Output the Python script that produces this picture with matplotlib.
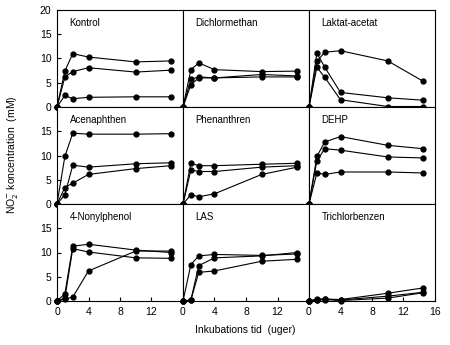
import matplotlib.pyplot as plt

plt.rcParams["font.family"] = ["Liberation Sans", "DejaVu Sans"]

weeks = [0, 1, 2, 4, 10, 14.5]

titles = ["Kontrol", "Dichlormethan", "Laktat-acetat",
          "Acenaphthen", "Phenanthren", "DEHP",
          "4-Nonylphenol", "LAS", "Trichlorbenzen"]

kontrol = [[0, 7.4, 11.0, 10.3, 9.3, 9.5],
           [0, 6.2, 7.3, 8.1, 7.2, 7.6],
           [0, 2.4, 1.7, 2.0, 2.1, 2.1]]
dichlormethan = [[0, 7.7, 9.1, 7.7, 7.3, 7.4],
                 [0, 5.7, 6.2, 6.0, 6.7, 6.4],
                 [0, 4.6, 6.0, 6.0, 6.2, 6.2]]
laktat = [[0, 9.4, 11.3, 11.6, 9.5, 5.3],
          [0, 11.1, 8.2, 3.0, 1.9, 1.4],
          [0, 8.2, 6.1, 1.5, 0.1, 0.1]]
acenaphthen = [[0, 9.8, 14.6, 14.4, 14.4, 14.5],
               [0, 1.9, 8.0, 7.6, 8.3, 8.5],
               [0, 3.4, 4.3, 6.1, 7.3, 7.9]]
phenanthren = [[0, 8.4, 7.9, 7.9, 8.2, 8.4],
               [0, 7.0, 6.7, 6.7, 7.6, 7.9],
               [0, 1.9, 1.5, 2.1, 6.1, 7.6]]
dehp = [[0, 9.8, 12.8, 13.9, 12.1, 11.4],
        [0, 8.9, 11.4, 11.1, 9.7, 9.5],
        [0, 6.4, 6.1, 6.6, 6.6, 6.4]]
nonylphenol = [[0, 1.5, 11.3, 11.7, 10.5, 10.0],
               [0, 0.6, 10.8, 10.1, 8.9, 8.8],
               [0, 0.4, 0.8, 6.2, 10.3, 10.3]]
las = [[0, 7.5, 9.3, 9.6, 9.4, 9.7],
       [0, 0.2, 7.3, 8.9, 9.3, 10.0],
       [0, 0.2, 5.9, 6.2, 8.2, 8.6]]
trichlorbenzen = [[0, 0.4, 0.4, 0.3, 1.6, 2.7],
                  [0, 0.3, 0.4, 0.2, 1.0, 1.8],
                  [0, 0.2, 0.3, 0.1, 0.6, 1.7]]

panels = [kontrol, dichlormethan, laktat,
          acenaphthen, phenanthren, dehp,
          nonylphenol, las, trichlorbenzen]

fig = plt.figure(figsize=(4.5, 3.45), dpi=100, facecolor="white")
gs = fig.add_gridspec(3, 3, left=57 / 450, right=435 / 450,
                      top=1 - 10 / 345, bottom=1 - 301 / 345,
                      hspace=0, wspace=0)

for i, (title, series) in enumerate(zip(titles, panels)):
    row, col = divmod(i, 3)
    ax = fig.add_subplot(gs[row, col])
    for ys in series:
        ax.plot(weeks, ys, color="black", lw=0.8, marker="o", ms=3.5,
                clip_on=False, zorder=3)
    ax.set_xlim(0, 16)
    ax.set_ylim(0, 20)
    for sp in ax.spines.values():
        sp.set_linewidth(0.8)
    ax.text(0.1, 0.84, title, transform=ax.transAxes, fontsize=7)
    ax.tick_params(direction="in", length=3, width=0.8, labelsize=7.5, pad=4)

    if col == 0:
        ax.set_yticks([0, 5, 10, 15, 20] if row == 0 else [0, 5, 10, 15])
    else:
        ax.set_yticks([])
    if row == 2:
        ax.set_xticks([0, 4, 8, 12, 16] if col == 2 else [0, 4, 8, 12])
    else:
        ax.set_xticks([])

fig.text(0.027, 1 - 155 / 345, "NO$_2^{-}$ koncentration  (mM)", rotation=90,
         ha="center", va="center", fontsize=7.5)
fig.text(245 / 450, 1 - 330 / 345, "Inkubations tid  (uger)",
         ha="center", va="center", fontsize=7.5)

fig.savefig("out.png", dpi=100, facecolor="white")
plt.close(fig)
